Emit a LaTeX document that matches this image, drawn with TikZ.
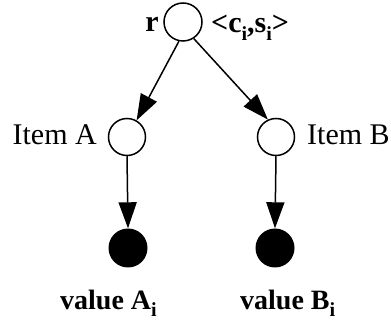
\documentclass[tikz,border=0pt]{standalone}
\usepackage{fontspec}
\setmainfont{Liberation Serif}
\usepackage{tikz}
\usetikzlibrary{arrows.meta, positioning}

% chi so duoi thap va lon nhu trong hinh goc
\newcommand{\lowsub}[1]{\raisebox{-0.25em}{\fontsize{20}{20}\selectfont #1}}

\tikzset{
    vertex/.style={circle, draw, line width=1.5pt, inner sep=0pt, minimum size=37pt},
    leaf/.style={circle, fill=black, inner sep=0pt, minimum size=39pt},
    edge/.style={line width=1.5pt, -{Triangle[length=26pt, width=18pt]}},
    txt/.style={inner sep=0pt, font=\fontsize{30}{32}\selectfont}
}

\begin{document}
\begin{tikzpicture}[x=1pt, y=-1pt]
    \useasboundingbox (0,0) rectangle (391,323);

    % 1. Cac dinh cua cay
    \node[vertex, minimum size=38pt] (root) at (183,22) {};
    \node[vertex] (itemA) at (127,137) {};
    \node[vertex] (itemB) at (276,137) {};
    \node[leaf] (valA) at (128,248) {};
    \node[leaf] (valB) at (275,248) {};

    % 2. Cac canh co huong
    \draw[edge] (root.258) -- (itemA.60);
    \draw[edge] (root.303) -- (itemB.115);
    \draw[edge] (itemA.south) -- (valA.north);
    \draw[edge] (itemB.south) -- (valB.north);

    % 3. Nhan cua cac dinh
    \node[txt, anchor=base east] (rlab) at (159,32) {\textbf{r}};
    \node[txt, anchor=base west] (cslab) at (211,33)
        {\textbf{<c\lowsub{i},s\lowsub{i}>}};
    \node[txt, anchor=base east] (alab) at (97,145) {Item A};
    \node[txt, anchor=base west] (blab) at (307,145) {Item B};
    \node[txt, anchor=base west, font=\fontsize{28}{30}\selectfont] (valAlab) at (60,309)
        {\textbf{value A\lowsub{i}}};
    \node[txt, anchor=base west, font=\fontsize{28}{30}\selectfont] (valBlab) at (240,309)
        {\textbf{value B\lowsub{i}}};

\end{tikzpicture}
\end{document}
